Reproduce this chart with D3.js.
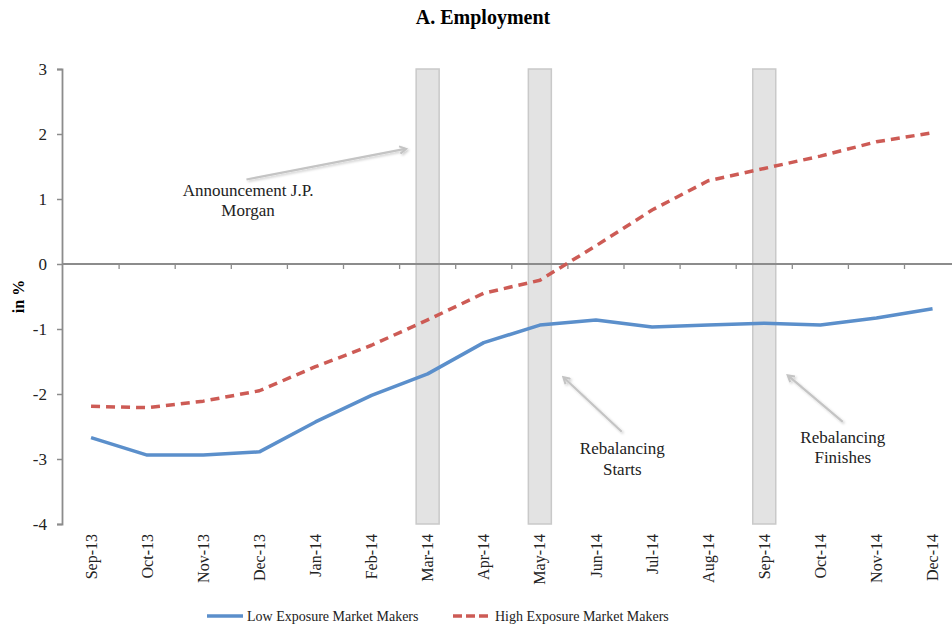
<!DOCTYPE html>
<html>
<head>
<meta charset="utf-8">
<script src="https://cdn.jsdelivr.net/npm/d3@7"></script>
<style>
  body { margin: 0; background: #fff; }
  svg { font-family: "Liberation Serif", "DejaVu Serif", serif; }
</style>
</head>
<body>
<svg width="952" height="629"></svg>
<script>
// Data
const months = ["Sep-13", "Oct-13", "Nov-13", "Dec-13", "Jan-14", "Feb-14", "Mar-14", "Apr-14",
  "May-14", "Jun-14", "Jul-14", "Aug-14", "Sep-14", "Oct-14", "Nov-14", "Dec-14"];
const lowExposure = [-2.67, -2.94, -2.94, -2.89, -2.43, -2.02, -1.69, -1.21,
  -0.94, -0.86, -0.97, -0.94, -0.91, -0.94, -0.83, -0.69];
const highExposure = [-2.19, -2.21, -2.11, -1.95, -1.58, -1.25, -0.86, -0.45,
  -0.25, 0.28, 0.83, 1.28, 1.47, 1.66, 1.88, 2.02];
const eventMonths = ["Mar-14", "May-14", "Sep-14"];
const yTicks = [-4, -3, -2, -1, 0, 1, 2, 3];
const seriesNames = ["Low Exposure Market Makers", "High Exposure Market Makers"];

// annotations: x in category units from the axis start, y in %
const notes = [
  { lines: ["Announcement J.P.", "Morgan"], tx: 3.3, ty: 1.05, from: [3.27, 1.3], to: [6.1, 1.77] },
  { lines: ["Rebalancing", "Starts"], tx: 9.97, ty: -2.93, from: [9.96, -2.58], to: [8.93, -1.75] },
  { lines: ["Rebalancing", "Finishes"], tx: 13.9, ty: -2.75, from: [13.9, -2.43], to: [12.93, -1.72] }
];

const svg = d3.select("svg");
const left = 63, bandW = 56.1;

const x = d3.scaleBand().domain(months).range([left, left + bandW * months.length]).padding(0);
const y = d3.scaleLinear().domain([-4, 3]).range([524, 69]);
const xu = d3.scaleLinear().domain([0, months.length]).range(x.range());

// shadow for arrows
const defs = svg.append("defs");
const f = defs.append("filter").attr("id", "shadow").attr("x", "-20%").attr("y", "-20%")
  .attr("width", "140%").attr("height", "140%");
f.append("feDropShadow").attr("dx", 1.5).attr("dy", 1.5).attr("stdDeviation", 1.2)
  .attr("flood-color", "#000").attr("flood-opacity", 0.2);
defs.append("marker").attr("id", "head").attr("viewBox", "0 0 10 10")
  .attr("refX", 7).attr("refY", 5).attr("markerWidth", 4.2).attr("markerHeight", 4.2)
  .attr("orient", "auto")
  .append("path").attr("d", "M1,1 L8,5 L1,9").attr("fill", "none")
  .attr("stroke", "#c4c4c4").attr("stroke-width", 2.2);

// Title
svg.append("text").attr("x", 483).attr("y", 24).attr("text-anchor", "middle")
  .attr("font-size", 20).attr("font-weight", "bold").attr("fill", "#000").text("A. Employment");

// gray event bars
svg.append("g").selectAll("rect").data(eventMonths).enter().append("rect")
  .attr("x", d => x(d) + x.bandwidth() / 2 - 11.5)
  .attr("width", 23)
  .attr("y", y(3))
  .attr("height", y(-4) - y(3))
  .attr("fill", "#e3e3e3")
  .attr("stroke", "#c9c9c9")
  .attr("stroke-width", 1.5);

// y axis
const yAxis = svg.append("g").attr("transform", `translate(${left - 1},0)`)
  .call(d3.axisLeft(y).tickValues(yTicks).tickSize(5).tickFormat(d => String(d)));
yAxis.select(".domain").attr("stroke", "#8c8c8c").attr("stroke-width", 1.8);
yAxis.selectAll(".tick line").attr("stroke", "#8c8c8c").attr("stroke-width", 1.5);
yAxis.selectAll(".tick text").attr("font-size", 17).attr("fill", "#222")
  .attr("font-family", "Liberation Serif").attr("x", -15);

svg.append("text").attr("transform", `translate(24,${y(-0.5)}) rotate(-90)`)
  .attr("text-anchor", "middle").attr("font-size", 16).attr("font-weight", "bold")
  .attr("fill", "#000").text("in %");

// zero line with category ticks
const zero = svg.append("g");
zero.append("line").attr("x1", left - 1).attr("x2", 952).attr("y1", y(0)).attr("y2", y(0))
  .attr("stroke", "#8c8c8c").attr("stroke-width", 1.8);
zero.selectAll("line.t").data(d3.range(1, months.length)).enter().append("line")
  .attr("class", "t")
  .attr("x1", d => xu(d)).attr("x2", d => xu(d))
  .attr("y1", y(0)).attr("y2", y(0) + 5)
  .attr("stroke", "#8c8c8c").attr("stroke-width", 1.3);

// category labels
const xAxis = svg.append("g").attr("transform", `translate(0,${y(-4)})`)
  .call(d3.axisBottom(x).tickSize(0));
xAxis.select(".domain").remove();
xAxis.selectAll(".tick text")
  .attr("font-size", 16).attr("fill", "#222").attr("font-family", "Liberation Serif")
  .attr("text-anchor", "end").attr("transform", "rotate(-90)")
  .attr("x", -10).attr("y", 0).attr("dy", "0.35em");

// lines
const line = d3.line().x((d, i) => x(months[i]) + x.bandwidth() / 2).y(d => y(d));
svg.append("path").datum(lowExposure).attr("d", line)
  .attr("fill", "none").attr("stroke", "#5b8fcb").attr("stroke-width", 3.5)
  .attr("stroke-linejoin", "round");
svg.append("path").datum(highExposure).attr("d", line)
  .attr("fill", "none").attr("stroke", "#cd5b55").attr("stroke-width", 3.5)
  .attr("stroke-dasharray", "9,6").attr("stroke-linejoin", "round");

// annotations
const ann = svg.append("g");
notes.forEach(n => {
  ann.append("line")
    .attr("x1", xu(n.from[0])).attr("y1", y(n.from[1]))
    .attr("x2", xu(n.to[0])).attr("y2", y(n.to[1]))
    .attr("stroke", "#c4c4c4").attr("stroke-width", 2.2)
    .attr("marker-end", "url(#head)").attr("filter", "url(#shadow)");
  const t = ann.append("text").attr("text-anchor", "middle").attr("font-size", 17).attr("fill", "#222");
  n.lines.forEach((l, i) => {
    t.append("tspan").attr("x", xu(n.tx)).attr("y", y(n.ty) + i * 20.5).text(l);
  });
});

// legend
const legend = svg.append("g").attr("transform", "translate(207,616)");
const items = legend.selectAll("g").data(seriesNames).enter().append("g")
  .attr("transform", (d, i) => `translate(${i * 246},0)`);
items.append("line").attr("x1", 0).attr("x2", 36).attr("y1", 0).attr("y2", 0)
  .attr("stroke", (d, i) => i ? "#cd5b55" : "#5b8fcb").attr("stroke-width", 3.5)
  .attr("stroke-dasharray", (d, i) => i ? "9,4" : null);
items.append("text").attr("x", (d, i) => i ? 42 : 40).attr("y", 5)
  .attr("font-size", 14).attr("fill", "#222").text(d => d);
</script>
</body>
</html>
